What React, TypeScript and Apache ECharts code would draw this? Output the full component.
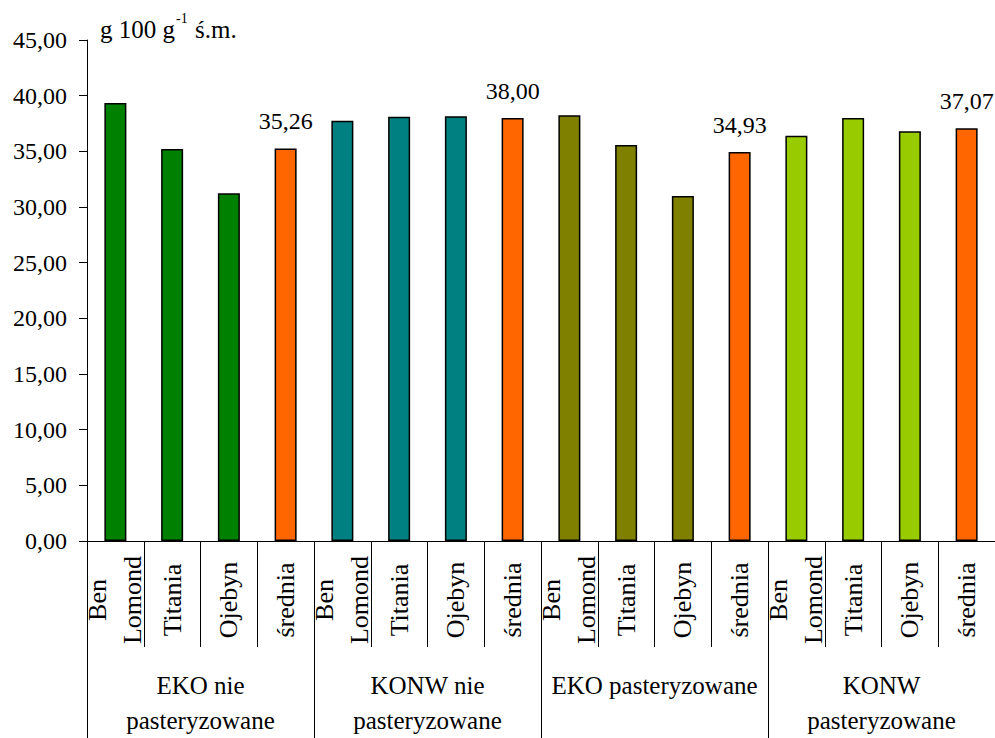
import React, { useEffect, useRef } from "react";
import * as echarts from "echarts";

const varieties = ["Ben\nLomond", "Titania", "Ojebyn", "średnia"];
const groups = [
  "EKO nie\npasteryzowane",
  "KONW nie\npasteryzowane",
  "EKO pasteryzowane",
  "KONW\npasteryzowane",
];
const ekoNie = [39.35, 35.2, 31.23, 35.26];
const konwNie = [37.75, 38.1, 38.15, 38.0];
const ekoPast = [38.25, 35.56, 30.98, 34.93];
const konwPast = [36.4, 38.0, 36.81, 37.07];
const groupValues = [ekoNie, konwNie, ekoPast, konwPast];
const groupColors = ["#008000", "#008080", "#808000", "#99CC00"];
const meanColor = "#FF6600";
const yTicks = { min: 0, max: 45, interval: 5 };
const unitMain = "g 100 g";
const unitSup = "-1";
const unitTail = "ś.m.";

const FONT = "Liberation Serif";

export default function App() {
  const ref = useRef<HTMLDivElement>(null);
  useEffect(() => {
    if (!ref.current) return;
    const chart = echarts.init(ref.current, null, { renderer: "svg" });
    const cats: string[] = [];
    const data: any[] = [];
    groupValues.forEach((vals, g) => {
      vals.forEach((v, i) => {
        cats.push(varieties[i]);
        const isMean = i === varieties.length - 1;
        data.push({
          value: v,
          itemStyle: { color: isMean ? meanColor : groupColors[g] },
          label: { show: isMean },
        });
      });
    });
    const fmt = (v: number) => v.toFixed(2).replace(".", ",");
    chart.setOption({
      animation: false,
      textStyle: { fontFamily: FONT, color: "#000" },
      grid: { left: 87, right: 0, top: 40, bottom: 192, containLabel: false },
      xAxis: [
        {
          type: "category",
          data: cats,
          axisLine: { show: true, lineStyle: { color: "#000", width: 1 } },
          axisTick: { show: true, interval: 0, length: 106, lineStyle: { color: "#000" } },
          axisLabel: {
            interval: 0,
            rotate: 90,
            align: "center",
            verticalAlign: "middle",
            margin: 59,
            fontFamily: FONT,
            fontSize: 26,
            lineHeight: 35,
            color: "#000",
          },
          splitLine: { show: false },
        },
        {
          type: "category",
          data: groups,
          position: "bottom",
          axisLine: { show: false },
          axisTick: { show: true, interval: 0, length: 200, lineStyle: { color: "#000" } },
          axisLabel: {
            interval: 0,
            margin: 127,
            fontFamily: FONT,
            fontSize: 25,
            lineHeight: 35,
            verticalAlign: "top",
            color: "#000",
          },
          splitLine: { show: false },
        },
      ],
      yAxis: {
        type: "value",
        min: yTicks.min,
        max: yTicks.max,
        interval: yTicks.interval,
        axisLine: { show: true, lineStyle: { color: "#000", width: 1 } },
        axisTick: { show: true, inside: false, length: 8, lineStyle: { color: "#000" } },
        axisLabel: {
          margin: 20,
          fontFamily: FONT,
          fontSize: 24,
          color: "#000",
          formatter: (v: number) => fmt(v),
        },
        splitLine: { show: false },
      },
      series: [
        {
          type: "bar",
          xAxisIndex: 0,
          data,
          barWidth: 22,
          itemStyle: { borderColor: "#000", borderWidth: 1.5 },
          label: {
            position: "top",
            distance: 15,
            fontFamily: FONT,
            fontSize: 24,
            color: "#000",
            formatter: (p: any) => fmt(p.value),
          },
        },
      ],
      graphic: [
        {
          type: "text",
          left: 100,
          top: 17,
          style: { text: unitMain, fontFamily: FONT, fontSize: 25, fill: "#000" },
        },
        {
          type: "text",
          left: 176,
          top: 11,
          style: { text: unitSup, fontFamily: FONT, fontSize: 14, fill: "#000" },
        },
        {
          type: "text",
          left: 195,
          top: 17,
          style: { text: unitTail, fontFamily: FONT, fontSize: 25, fill: "#000" },
        },
      ],
    });
    return () => chart.dispose();
  }, []);
  return (
    <div
      ref={ref}
      style={{ position: "fixed", left: 0, top: 0, width: 995, height: 738, background: "#fff" }}
    />
  );
}
